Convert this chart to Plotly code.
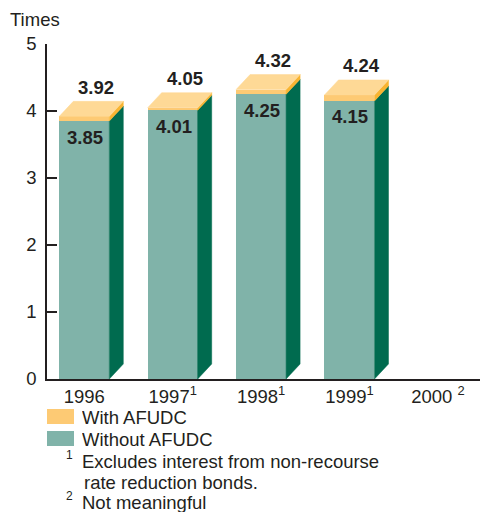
import plotly.graph_objects as go

# ---- data ----
years = ["1996", "1997", "1998", "1999", "2000"]
tick_labels = ["1996", "1997<sup>1</sup>", "1998<sup>1</sup>", "1999<sup>1</sup>", "2000 <sup>2</sup>"]
without_afudc = [3.85, 4.01, 4.25, 4.15]
with_afudc = [3.92, 4.05, 4.32, 4.24]
y_ticks = [0, 1, 2, 3, 4, 5]

# ---- style ----
FONT = "Liberation Sans, Arial, sans-serif"
TXT = "#231f20"
TEAL = "#80b3a9"
TEAL_SIDE = "#006b4f"
YEL = "#fdca74"
YEL_TOP = "#fed996"
YEL_SIDE = "#f8b431"
FS = 18.5

OFF = 8  # page body margin of the browser
W, H = 488 - OFF, 512 - OFF
ML, MT = 47 - OFF, 44 - OFF
PW = 488 - 47
PH = 335
MR = W - ML - PW
MB = H - MT - PH
XR = [-0.422, 4.567]
YR = [0, 5]
px_x = PW / (XR[1] - XR[0])
px_y = PH / (YR[1] - YR[0])
BW = 50 / px_x          # front face width in x units
DX = 14 / px_x          # depth offset x
DY = 15 / px_y          # depth offset y

pos = list(range(len(years)))
n = len(without_afudc)
bx = pos[:n]

fig = go.Figure()

# front faces
fig.add_trace(go.Bar(x=bx, y=without_afudc, width=BW, marker=dict(color=TEAL, line=dict(width=0)),
                     showlegend=False, hoverinfo="skip"))
fig.add_trace(go.Bar(x=bx, y=[w - o for w, o in zip(with_afudc, without_afudc)], width=BW,
                     marker=dict(color=YEL, line=dict(width=0)), showlegend=False, hoverinfo="skip"))


def poly_trace(xs, ys, color):
    return go.Scatter(x=xs, y=ys, mode="lines", fill="toself", fillcolor=color,
                      line=dict(color=color, width=0.5), showlegend=False, hoverinfo="skip")


sx, sy, yx, yy, tx, ty = [], [], [], [], [], []
for x, lo, hi in zip(bx, without_afudc, with_afudc):
    r = x + BW / 2
    l = x - BW / 2
    sx += [r, r + DX, r + DX, r, r, None]
    sy += [0, DY, lo + DY, lo, 0, None]
    yx += [r, r + DX, r + DX, r, r, None]
    yy += [lo, lo + DY, hi + DY, hi, lo, None]
    tx += [l, r, r + DX, l + DX, l, None]
    ty += [hi, hi, hi + DY, hi + DY, hi, None]
fig.add_trace(poly_trace(sx, sy, TEAL_SIDE))
fig.add_trace(poly_trace(yx, yy, YEL_SIDE))
fig.add_trace(poly_trace(tx, ty, YEL_TOP))

annotations = []
for x, lo, hi in zip(bx, without_afudc, with_afudc):
    annotations.append(dict(x=x, y=hi + DY, xref="x", yref="y", text=f"<b>{hi:.2f}</b>",
                            showarrow=False, xanchor="center", yanchor="middle", xshift=12, yshift=14,
                            font=dict(size=FS, color=TXT, family=FONT)))
    annotations.append(dict(x=x, y=lo, xref="x", yref="y", text=f"<b>{lo:.2f}</b>",
                            showarrow=False, xanchor="center", yanchor="middle", xshift=1, yshift=-16,
                            font=dict(size=FS, color=TXT, family=FONT)))


# helpers take pixel positions measured on the 488x512 page
def px2paper_x(p):
    return (p - 47) / PW


def px2paper_y(p):
    return 1 - (p - 44) / PH


def note(text, xp, yp, size=FS, box_h=None):
    a = dict(x=px2paper_x(xp), y=px2paper_y(yp), xref="paper", yref="paper",
             text=text, showarrow=False, xanchor="left", yanchor="middle", borderpad=0,
             font=dict(size=size, color=TXT, family=FONT))
    if box_h:
        a["height"] = box_h
    annotations.append(a)


note("Times", 9, 20)
note("With AFUDC", 81, 417, box_h=21)
note("Without AFUDC", 81, 439, box_h=21)
note("1", 65, 455, 12)
note("Excludes interest from non-recourse", 81, 461, box_h=21)
note("rate reduction bonds.", 83, 482, box_h=21)
note("2", 65, 496, 12)
note("Not meaningful", 81, 502, box_h=20)

shapes = []
for (top, bot), col in [((409, 424), YEL), ((431, 446), TEAL)]:
    shapes.append(dict(type="rect", xref="paper", yref="paper",
                       x0=px2paper_x(47), x1=px2paper_x(74),
                       y0=px2paper_y(bot), y1=px2paper_y(top),
                       fillcolor=col, line=dict(width=0)))

fig.update_layout(
    width=W, height=H,
    margin=dict(l=ML, r=MR, t=MT, b=MB, pad=0),
    paper_bgcolor="white", plot_bgcolor="white",
    barmode="stack", bargap=0,
    showlegend=False,
    font=dict(family=FONT, size=FS, color=TXT),
    xaxis=dict(range=XR, tickmode="array", tickvals=pos, ticktext=tick_labels,
               showline=True, linecolor=TXT, linewidth=1.5, ticks="", showgrid=False,
               zeroline=False, tickfont=dict(size=FS, color=TXT, family=FONT), fixedrange=True),
    yaxis=dict(range=YR, tickmode="array", tickvals=y_ticks, showline=True, linecolor=TXT,
               linewidth=1.5, ticks="inside", ticklen=10, tickwidth=1.5, tickcolor=TXT,
               showgrid=False, zeroline=False, ticklabelstandoff=5,
               tickfont=dict(size=FS, color=TXT, family=FONT), fixedrange=True),
    annotations=annotations,
    shapes=shapes,
)

fig.write_html("out.html")
